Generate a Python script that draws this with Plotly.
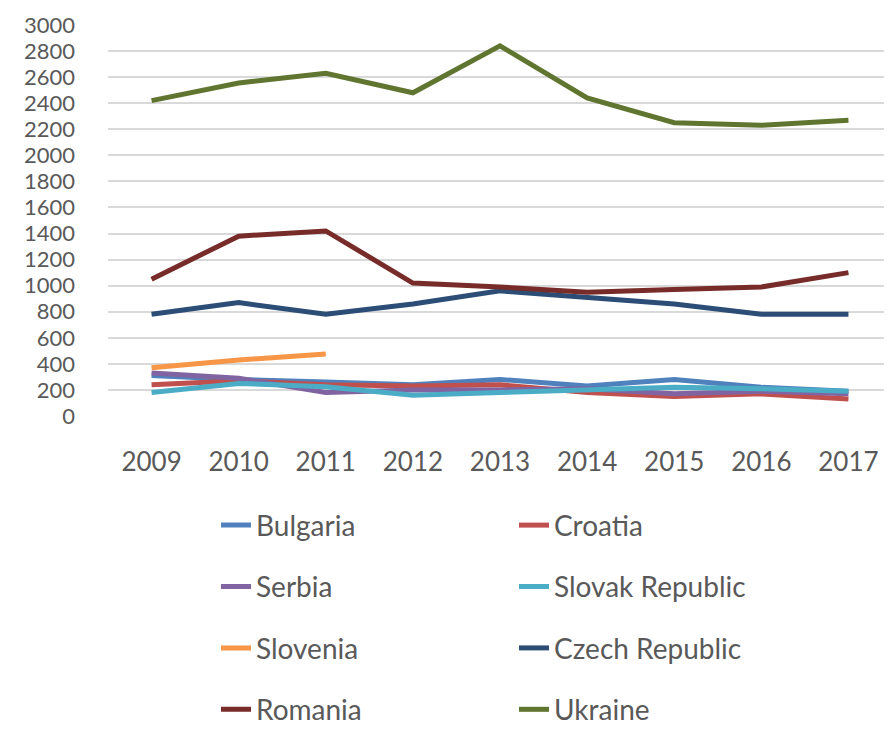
import plotly.graph_objects as go

years = ["2009", "2010", "2011", "2012", "2013", "2014", "2015", "2016", "2017"]

bulgaria = [310, 280, 260, 240, 280, 230, 280, 220, 190]
croatia = [240, 270, 240, 230, 240, 180, 150, 170, 130]
serbia = [330, 290, 180, 200, 200, 210, 170, 190, 170]
slovak = [180, 250, 225, 160, 180, 200, 220, 210, 190]
slovenia = [370, 430, 475, None, None, None, None, None, None]
czech = [780, 870, 780, 860, 960, 910, 860, 780, 780]
romania = [1050, 1380, 1420, 1020, 990, 950, 970, 990, 1100]
ukraine = [2420, 2555, 2630, 2480, 2840, 2440, 2250, 2230, 2270]

# (name, values, colour, legend column)
series = [
    ("Bulgaria", bulgaria, "#4f81bd", "legend"),
    ("Croatia", croatia, "#c0504d", "legend2"),
    ("Serbia", serbia, "#8064a2", "legend"),
    ("Slovak Republic", slovak, "#4bacc6", "legend2"),
    ("Slovenia", slovenia, "#f79646", "legend"),
    ("Czech Republic", czech, "#2c4d75", "legend2"),
    ("Romania", romania, "#772c2a", "legend"),
    ("Ukraine", ukraine, "#5f7530", "legend2"),
]

FONT = "Lato"
TXT = "#595959"

fig = go.Figure()
for name, vals, col, leg in series:
    fig.add_scatter(x=years, y=vals, name=name, mode="lines",
                    line=dict(color=col, width=5), legend=leg,
                    legendgroup=name)

# page body has an 8px margin, so the figure is sized to fit inside it
leg_common = dict(orientation="v", yref="container", xref="container",
                  yanchor="top", y=0.318, xanchor="left",
                  font=dict(family=FONT, size=28, color=TXT),
                  tracegroupgap=22, bgcolor="rgba(0,0,0,0)", itemwidth=30)

fig.update_layout(
    width=884, height=722,
    paper_bgcolor="white", plot_bgcolor="white",
    margin=dict(l=100, r=0, t=17, b=314, autoexpand=False),
    font=dict(family=FONT, color=TXT),
    showlegend=True,
    legend=dict(x=0.2353, **leg_common),
    legend2=dict(x=0.5724, **leg_common),
    xaxis=dict(type="category", range=[-0.5, 8.5], showgrid=False,
               showline=False, zeroline=False, automargin=False,
               tickfont=dict(family=FONT, size=26, color=TXT),
               ticklabelstandoff=28),
    yaxis=dict(range=[0, 3000], dtick=200, showgrid=True,
               gridcolor="#d9d9d9", gridwidth=2, zeroline=False,
               showline=False, automargin=False,
               tickfont=dict(family=FONT, size=22, color=TXT),
               ticklabelstandoff=32),
)

fig.write_html("out.html")
